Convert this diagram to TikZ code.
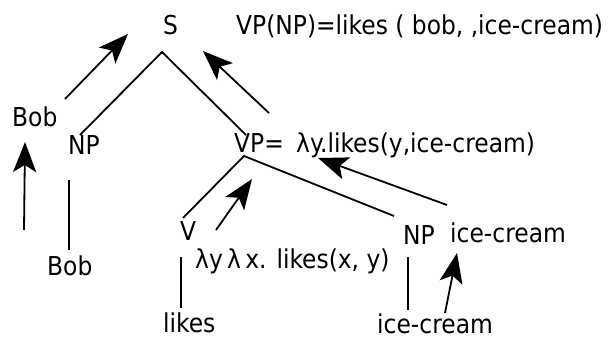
\documentclass[tikz,border=0pt]{standalone}
\usepackage{fontspec}
\IfFontExistsTF{DejaVu Sans Condensed}{\setmainfont{DejaVu Sans Condensed}}{\setmainfont{Liberation Sans}}
\usetikzlibrary{arrows.meta}
\begin{document}
\begin{tikzpicture}[x=1pt,y=-1pt,
  lbl/.style={inner sep=0pt,anchor=base west,font=\fontsize{26}{30}\selectfont},
  edge/.style={line width=1.8pt},
  up/.style={line width=1.8pt,-{Stealth[length=30pt,width=23pt,inset=7pt]}}]
\useasboundingbox (0,0) rectangle (610,339);
% labels
\node[lbl] (S) at (163,35) {S};
\node[lbl] (Ssem) at (236,35) {VP(NP)=likes ( bob, ,ice-cream)};
\node[lbl] (BobT) at (12,127) {Bob};
\node[lbl] (NPl) at (68,155) {NP};
\node[lbl] (VP) at (234,153) {VP=};
\node[lbl] (VPsem) at (296,153) {λy.likes(y,ice-cream)};
\node[lbl] (V) at (180,240) {V};
\node[lbl] (NPr) at (403,244) {NP};
\node[lbl] (ICr) at (450,242) {ice-cream};
\node[lbl] (BobB) at (47,275) {Bob};
\node[lbl] (Vsem) at (195,268) {λy\,λ\,x. likes(x, y)};
\node[lbl] (likes) at (163,332) {likes};
\node[lbl] (ICb) at (377,333) {ice-cream};
% tree junctions
\coordinate (Sapex) at (162,52);
\coordinate (NPltop) at (80,135);
\coordinate (VPtop) at (246,135);
\coordinate (VPapex) at (244,156);
\coordinate (Vtop) at (183,218);
\coordinate (NPrtop) at (394,216);
\coordinate (NPlbot) at (69,180);
\coordinate (BobBtop) at (69,250);
\coordinate (Vbot) at (181,257);
\coordinate (likestop) at (181,308);
\coordinate (NPrbot) at (408,257);
\coordinate (ICbtop) at (408,310);
\draw[edge] (NPltop) -- (Sapex) -- (VPtop);
\draw[edge] (Vtop) -- (VPapex) -- (NPrtop);
\draw[edge] (NPlbot) -- (BobBtop);
\draw[edge] (Vbot) -- (likestop);
\draw[edge] (NPrbot) -- (ICbtop);
% semantic arrows
\coordinate (a1s) at (65,99);   \coordinate (a1e) at (128,34);
\coordinate (a2s) at (269,113); \coordinate (a2e) at (203,51);
\coordinate (a3s) at (24,230);  \coordinate (a3e) at (25,142);
\coordinate (a4s) at (216,230); \coordinate (a4e) at (252,179);
\coordinate (a5s) at (447,205); \coordinate (a5e) at (318,158);
\coordinate (a6s) at (445,313); \coordinate (a6e) at (457,253);
\draw[up] (a1s) -- (a1e);
\draw[up] (a2s) -- (a2e);
\draw[up] (a3s) -- (a3e);
\draw[up] (a4s) -- (a4e);
\draw[up] (a5s) -- (a5e);
\draw[up] (a6s) -- (a6e);
\end{tikzpicture}
\end{document}
